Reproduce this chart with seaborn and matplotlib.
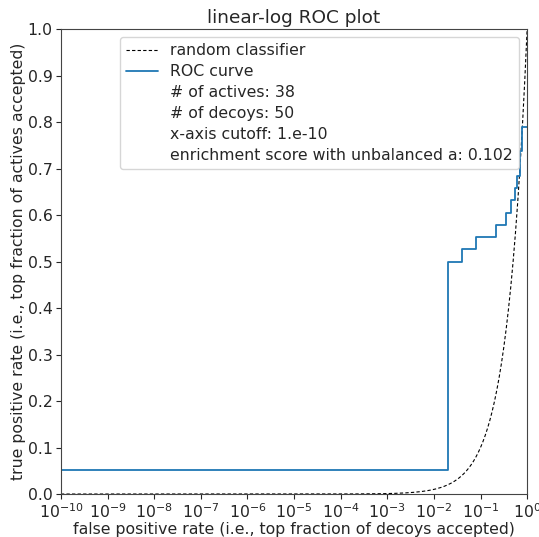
import numpy as np
import pandas as pd
import matplotlib
matplotlib.use("Agg")
import matplotlib.pyplot as plt
import seaborn as sns

sns.set_style("ticks")
plt.rcParams['font.family'] = ['DejaVu Sans']

# ROC step data (fpr breakpoints, tpr levels)
fpr = [1e-10, 0.02, 0.04, 0.08, 0.22, 0.36, 0.46, 0.54, 0.62, 0.70, 0.76, 1.0]
tpr = [2/38, 19/38, 20/38, 21/38, 22/38, 23/38, 24/38, 25/38, 26/38, 28/38, 30/38, 30/38]

# random classifier: y = x
rand_x = np.logspace(-10, 0, 400)
rand_y = rand_x

info_lines = ["# of actives: 38", "# of decoys: 50", "x-axis cutoff: 1.e-10",
              "enrichment score with unbalanced a: 0.102"]

FS = 11.3
fig, ax = plt.subplots(figsize=(5.39, 5.37), dpi=100)
fig.subplots_adjust(left=0.113, right=0.978, bottom=0.08, top=0.946)

sns.lineplot(x=rand_x, y=rand_y, ax=ax, color='black', linestyle='--', linewidth=0.8,
             label='random classifier', estimator=None, sort=False)
ax.lines[-1].set_linestyle((0, (3, 2)))
sns.lineplot(x=fpr, y=tpr, ax=ax, color='#1f77b4', linewidth=1.3,
             drawstyle='steps-post', label='ROC curve', estimator=None, sort=False)
for t in info_lines:
    ax.plot([], [], ' ', label=t)

ax.set_xscale('log')
ax.set_xlim(1e-10, 1)
ax.set_ylim(0, 1)
ax.set_xticks([10.0**k for k in range(-10, 1)])
ax.set_yticks(np.arange(0, 1.01, 0.1))
ax.set_yticklabels([f"{v:.1f}" for v in np.arange(0, 1.01, 0.1)])
ax.tick_params(labelsize=FS, pad=2.5)
ax.minorticks_off()
ax.set_xlabel("false positive rate (i.e., top fraction of decoys accepted)", fontsize=FS, labelpad=1)
ax.set_ylabel("true positive rate (i.e., top fraction of actives accepted)", fontsize=FS, labelpad=1)
ax.set_title("linear-log ROC plot", fontsize=13.3, pad=4)
leg = ax.legend(loc='upper right', fontsize=FS, handlelength=2.0, labelspacing=0.38)
for s in ax.spines.values():
    s.set_visible(True)
    s.set_color('#444444')

fig.savefig("out.png", dpi=100)
